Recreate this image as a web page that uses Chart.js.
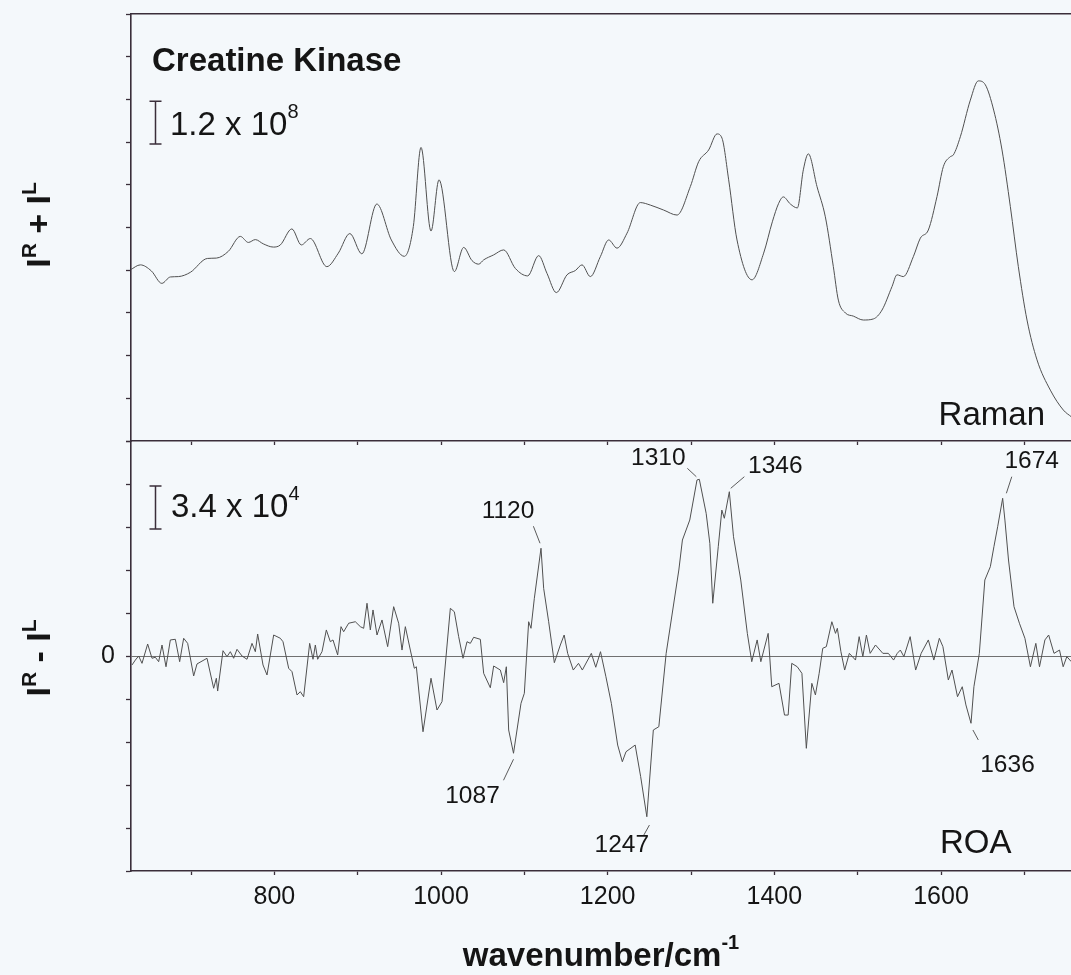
<!DOCTYPE html>
<html>
<head>
<meta charset="utf-8">
<title>Creatine Kinase Raman / ROA</title>
<script src="https://cdn.jsdelivr.net/npm/chart.js@4/dist/chart.umd.min.js"></script>
<style>
  html, body { margin: 0; padding: 0; background: #f4f8fb; overflow: hidden; }
  #wrap { position: relative; width: 1071px; height: 975px; }
  #wrap canvas { position: absolute; left: 0; top: 0; }
</style>
</head>
<body>
<div id="wrap">
  <canvas id="raman" width="1071" height="975"></canvas>
  <canvas id="roa" width="1071" height="975"></canvas>
</div>
<script>
// ---- data -------------------------------------------------------------
// Raman spectrum I^R + I^L (intensity in units of 10^8)
const ramanWavenumber = [
  627.2, 639.2, 652.4, 665.0, 675.2, 684.8, 699.2, 719.6, 730.4, 744.8,
  759.2, 768.8, 777.2, 786.8, 798.8, 807.2, 821.0, 832.4, 843.2, 863.0,
  876.8, 890.6, 905.0, 923.0, 940.4, 956.0, 966.8, 976.0, 988.0, 997.6,
  1016.0, 1027.2, 1037.2, 1045.2, 1051.2, 1063.2, 1075.2, 1089.2, 1104.0, 1117.2,
  1127.2, 1138.4, 1151.2, 1161.2, 1169.2, 1179.2, 1191.2, 1201.2, 1211.2, 1223.2,
  1239.2, 1251.2, 1267.2, 1283.2, 1299.2, 1309.2, 1321.2, 1331.2, 1337.2, 1345.2,
  1355.2, 1373.2, 1387.2, 1397.6, 1405.2, 1410.8, 1419.2, 1427.6, 1434.8, 1440.8,
  1451.2, 1461.2, 1470.8, 1476.8, 1485.2, 1494.8, 1506.8, 1518.8, 1529.2, 1541.2,
  1547.2, 1554.8, 1566.8, 1575.2, 1584.8, 1595.2, 1602.8, 1611.2, 1614.8, 1623.2,
  1635.2, 1644.8, 1653.2, 1663.2, 1673.2, 1683.2, 1692.8, 1703.2, 1715.2, 1731.2,
  1746.8, 1756.4
];
const ramanIntensity = [
  4.81, 4.95, 4.78, 4.43, 4.61, 4.62, 4.74, 5.13, 5.14, 5.33,
  5.75, 5.58, 5.66, 5.54, 5.45, 5.51, 5.96, 5.51, 5.69, 4.90,
  5.28, 5.83, 5.26, 6.66, 5.65, 5.19, 6.03, 8.25, 5.90, 7.34,
  4.76, 5.44, 5.07, 4.97, 5.09, 5.23, 5.37, 4.85, 4.64, 5.21,
  4.71, 4.17, 4.67, 4.79, 4.95, 4.62, 5.18, 5.65, 5.42, 5.84,
  6.70, 6.63, 6.49, 6.35, 7.15, 7.85, 8.18, 8.63, 8.51, 7.34,
  5.65, 4.53, 5.28, 6.16, 6.68, 6.86, 6.66, 6.55, 7.62, 8.07,
  7.15, 6.30, 4.90, 3.96, 3.60, 3.51, 3.40, 3.43, 3.68, 4.34,
  4.67, 4.62, 5.18, 5.70, 5.93, 6.87, 7.71, 7.99, 8.04, 8.55,
  9.58, 10.12, 10.01, 9.30, 8.18, 6.59, 4.90, 3.40, 2.28, 1.43,
  0.87, 0.68
];

// ROA spectrum I^R - I^L (units of 10^4)
const roaWavenumber = [
  629.2, 633.2, 637.2, 641.2, 648.0, 653.2, 657.2, 661.2, 665.2, 670.0,
  675.2, 681.2, 686.4, 691.2, 696.0, 703.2, 707.2, 719.2, 727.2, 730.4,
  732.0, 738.4, 743.2, 747.2, 751.2, 755.2, 761.2, 767.2, 773.2, 777.2,
  780.0, 786.4, 791.2, 799.2, 807.2, 810.4, 817.2, 821.2, 827.2, 831.2,
  835.2, 842.4, 846.4, 849.2, 852.0, 857.2, 862.4, 867.2, 870.4, 876.0,
  880.0, 883.2, 889.2, 897.2, 903.2, 907.2, 911.2, 915.2, 918.4, 923.2,
  929.2, 936.0, 943.2, 949.2, 953.2, 957.2, 963.2, 968.0, 970.4, 978.4,
  988.0, 995.2, 1001.2, 1011.2, 1016.0, 1021.2, 1026.4, 1031.2, 1035.2, 1039.2,
  1047.2, 1051.2, 1059.2, 1063.2, 1071.2, 1075.2, 1078.4, 1081.2, 1087, 1096.0,
  1100.0, 1105.2, 1108.0, 1112.0, 1120, 1123.2, 1129.2, 1136.0, 1143.2, 1147.8,
  1152.0, 1158.7, 1165.0, 1169.6, 1180.4, 1185.7, 1191.4, 1197.9, 1204.4, 1212.0,
  1217.6, 1222.0, 1233.0, 1239.6, 1247, 1254.8, 1261.4, 1270.2, 1285.4, 1289.7,
  1298.5, 1307.2, 1310, 1318.2, 1322.6, 1326.1, 1332.7, 1337.0, 1340.0, 1346,
  1351.0, 1359.7, 1367.6, 1372.9, 1379.4, 1383.8, 1392.6, 1396.9, 1405.6, 1412.2,
  1416.6, 1420.9, 1427.5, 1433.1, 1438.4, 1445.0, 1449.3, 1453.8, 1458.1, 1462.4,
  1469.0, 1473.4, 1475.6, 1479.9, 1484.4, 1490.0, 1497.4, 1501.8, 1506.2, 1510.5,
  1515.0, 1521.4, 1530.2, 1536.8, 1543.1, 1547.5, 1551.2, 1555.5, 1563.0, 1569.6,
  1576.2, 1584.8, 1591.4, 1598.0, 1602.3, 1608.8, 1613.2, 1619.8, 1625.5, 1629.9,
  1636, 1639.5, 1646.0, 1652.6, 1659.2, 1663.5, 1668.0, 1674, 1676.7, 1681.0,
  1687.6, 1694.1, 1700.7, 1707.3, 1713.8, 1718.2, 1724.7, 1729.2, 1735.6, 1742.2,
  1746.6, 1751.0, 1756.4
];
const roaIntensity = [
  -0.71, -0.32, 0.00, -0.58, 0.95, -0.18, -0.10, -0.45, 0.87, -0.85,
  1.27, 1.32, -0.45, 1.40, 1.00, -1.58, -0.63, -0.18, -2.55, -1.76,
  -2.77, 0.42, -0.05, 0.34, -0.18, 0.53, 0.00, -0.26, 1.00, 0.34,
  1.74, -0.71, -1.50, 1.66, 1.40, 1.13, -0.97, -1.24, -3.08, -2.82,
  -3.22, 1.00, -0.26, 0.87, -0.26, 0.34, 2.06, 1.13, 1.27, 0.08,
  2.32, 1.92, 2.59, 2.71, 2.32, 2.19, 4.17, 2.06, 3.64, 1.66,
  2.85, 0.74, 3.90, 2.59, 0.47, 2.32, 0.47, -0.97, -0.85, -5.99,
  -1.76, -4.27, -3.61, 3.77, 3.50, 1.53, -0.18, 1.13, 1.00, 1.48,
  1.32, -1.37, -2.51, -0.79, -1.11, -2.11, -0.85, -5.85, -7.69, -3.74,
  -2.95, 2.71, 2.19, 4.56, 8.52, 5.35, 2.71, -0.53, 0.87, 1.66,
  0.21, -1.11, -0.58, -1.11, 0.21, -0.89, 0.34, -1.64, -3.74, -7.04,
  -8.36, -7.57, -7.04, -9.54, -12.71, -5.85, -5.59, 0.21, 6.80, 9.17,
  10.75, 13.92, 13.97, 11.28, 8.91, 4.17, 8.64, 11.54, 10.89, 12.99,
  9.43, 6.01, 1.79, -0.45, 1.27, -0.45, 1.79, -2.43, -2.16, -4.67,
  -4.67, -0.58, -0.85, -1.37, -7.30, -2.16, -3.08, -1.37, 0.61, 0.74,
  2.71, 1.79, 2.19, 0.34, -1.11, 0.21, -0.32, 1.53, -0.05, 1.66,
  0.21, 0.87, 0.21, 0.21, -0.32, 0.21, 0.47, -0.05, 1.53, -1.11,
  0.21, 1.27, -0.32, 1.40, 0.74, -1.90, -1.11, -3.22, -2.43, -3.87,
  -5.32, -2.43, 0.21, 6.01, 7.06, 8.64, 10.22, 12.47, 10.75, 7.59,
  3.90, 2.59, 1.40, -0.85, 1.00, -0.85, 1.27, 1.66, 0.21, 0.47,
  -0.85, -0.05, -0.45
];

// labelled wavenumber ticks and annotated ROA bands
const xTickLabels = [800, 1000, 1200, 1400, 1600];
const roaBandLabels = [1087, 1120, 1247, 1310, 1346, 1636, 1674];

// intensity scale bars
const ramanScaleBar = 1.2;   // x 10^8
const roaScaleBar = 3.4;     // x 10^4

// ---- layout & style ---------------------------------------------------
const X_MIN = 628, X_MAX = 1756;
const PLOT_LEFT = 131;
const TOP_EDGE = 14, MID_EDGE = 441, BOTTOM_EDGE = 871;
const FONT = '"Liberation Sans", Arial, Helvetica, sans-serif';
const AXIS = '#3a2e3a';
const INK = '#151515';
const TRACE = '#505050';
const ZERO = '#707070';

Chart.defaults.font.family = FONT;

// leader-line / label offsets (px) for each annotated band, relative to the band point
const bandLabelOffsets = {
  1087: { l1: [0, 6],     l2: [-10, 27],   t: [-41, 43] },
  1120: { l1: [-1, -5],   l2: [-7.6, -22], t: [-33, -37] },
  1247: { l1: [2.6, 8.3], l2: [-3, 18.3],  t: [-25, 28.5] },
  1310: { l1: [-3, -2.6], l2: [-12, -11],  t: [-41, -21] },
  1346: { l1: [1.4, -3.4],l2: [15, -15],   t: [46, -25] },
  1636: { l1: [1.9, 6.7], l2: [7.3, 16.7], t: [36.5, 41.7] },
  1674: { l1: [3.7, -5],  l2: [9.1, -21.6],t: [29, -36.6] }
};

// ---- text helpers -------------------------------------------------------
function fontStr(r) { return `${r.bold ? 'bold ' : ''}${r.size}px ${FONT}`; }

// draws runs of text on one baseline; runs with "rise" are superscripts
function drawRich(ctx, runs, x, y, align) {
  let total = 0;
  runs.forEach(r => { ctx.font = fontStr(r); r.w = ctx.measureText(r.text).width; total += r.w; });
  let cx = align === 'center' ? x - total / 2 : align === 'right' ? x - total : x;
  ctx.textAlign = 'left';
  ctx.textBaseline = 'alphabetic';
  runs.forEach(r => {
    ctx.font = fontStr(r);
    ctx.fillText(r.text, cx, y - (r.rise || 0));
    cx += r.w;
  });
}

function drawVerticalTitle(ctx, cx, cy, runs, capHalf) {
  ctx.save();
  ctx.translate(cx, cy);
  ctx.rotate(-Math.PI / 2);
  drawRich(ctx, runs, 0, capHalf, 'center');
  ctx.restore();
}

function drawScaleBar(ctx, xScale, yScale, wn, from, span) {
  const x = Math.round(xScale.getPixelForValue(wn)) + 0.5;
  const y0 = yScale.getPixelForValue(from);
  const y1 = yScale.getPixelForValue(from + span);
  ctx.save();
  ctx.strokeStyle = AXIS;
  ctx.lineWidth = 1.5;
  ctx.beginPath();
  ctx.moveTo(x, y0); ctx.lineTo(x, y1);
  ctx.moveTo(x - 6, y0); ctx.lineTo(x + 6, y0);
  ctx.moveTo(x - 6, y1); ctx.lineTo(x + 6, y1);
  ctx.stroke();
  ctx.restore();
}

const BOLD_T = 34, SUP_T = 21;
const sumTitle = [
  { text: 'I', size: BOLD_T, bold: true },
  { text: 'R', size: SUP_T, bold: true, rise: 14 },
  { text: ' + ', size: BOLD_T, bold: true },
  { text: 'I', size: BOLD_T, bold: true },
  { text: 'L', size: SUP_T, bold: true, rise: 14 }
];
const diffTitle = [
  { text: 'I', size: BOLD_T, bold: true },
  { text: 'R', size: SUP_T, bold: true, rise: 14 },
  { text: ' - ', size: BOLD_T, bold: true },
  { text: 'I', size: BOLD_T, bold: true },
  { text: 'L', size: SUP_T, bold: true, rise: 14 }
];

// ---- Raman panel decorations -------------------------------------------
const ramanDecor = {
  id: 'ramanDecor',
  afterDraw(chart) {
    const { ctx, scales } = chart;
    ctx.save();
    ctx.fillStyle = INK;
    drawRich(ctx, [{ text: 'Creatine Kinase', size: 33, bold: true }], 152, 71, 'left');
    drawScaleBar(ctx, scales.x, scales.y, 657, 8.35, ramanScaleBar);
    drawRich(ctx, [
      { text: '1.2 x 10', size: 33 },
      { text: '8', size: 20, rise: 17 }
    ], 170, 135, 'left');
    drawRich(ctx, [{ text: 'Raman', size: 33 }], 1045, 425, 'right');
    drawVerticalTitle(ctx, 38, 225, sumTitle, 12);
    ctx.restore();
  }
};

// ---- ROA panel decorations ---------------------------------------------
const roaDecor = {
  id: 'roaDecor',
  afterDraw(chart) {
    const { ctx, scales, chartArea } = chart;
    const xs = scales.x, ys = scales.y;
    ctx.save();
    ctx.fillStyle = INK;
    drawScaleBar(ctx, xs, ys, 657, 10.05, roaScaleBar);
    drawRich(ctx, [
      { text: '3.4 x 10', size: 33 },
      { text: '4', size: 20, rise: 17 }
    ], 171, 517, 'left');
    drawRich(ctx, [{ text: 'ROA', size: 33 }], 940, 853, 'left');

    // band labels with leader lines
    roaBandLabels.forEach(wn => {
      const i = roaWavenumber.indexOf(wn);
      if (i < 0) return;
      const px = xs.getPixelForValue(wn);
      const py = ys.getPixelForValue(roaIntensity[i]);
      const o = bandLabelOffsets[wn];
      ctx.strokeStyle = '#5a5a5a';
      ctx.lineWidth = 1;
      ctx.beginPath();
      ctx.moveTo(px + o.l1[0], py + o.l1[1]);
      ctx.lineTo(px + o.l2[0], py + o.l2[1]);
      ctx.stroke();
      ctx.font = `24.5px ${FONT}`;
      ctx.textAlign = 'center';
      ctx.textBaseline = 'middle';
      ctx.fillText(String(wn), px + o.t[0], py + o.t[1]);
    });

    // axis titles
    const cx = (chartArea.left + chartArea.right) / 2;
    drawRich(ctx, [
      { text: 'wavenumber/cm', size: 33, bold: true },
      { text: '-1', size: 20, bold: true, rise: 17 }
    ], cx, 966, 'center');
    drawVerticalTitle(ctx, 38, 658, diffTitle, 12);
    ctx.restore();
  }
};

// ---- charts --------------------------------------------------------------
const toPoints = (xs, ys) => xs.map((x, i) => ({ x, y: ys[i] }));
const common = {
  responsive: false,
  animation: false,
  events: [],
  plugins: { legend: { display: false }, tooltip: { enabled: false } }
};
const tickGrid = (len) => ({
  display: true, drawOnChartArea: false, drawTicks: true,
  tickLength: len, tickColor: AXIS, tickWidth: 1.3
});
const border = { display: true, color: AXIS, width: 1.6 };

new Chart(document.getElementById('raman'), {
  type: 'line',
  data: {
    datasets: [{
      data: toPoints(ramanWavenumber, ramanIntensity),
      borderColor: TRACE, borderWidth: 1, pointRadius: 0,
      cubicInterpolationMode: 'monotone', fill: false
    }]
  },
  options: Object.assign({}, common, {
    layout: { padding: { top: TOP_EDGE, left: 0, right: 0, bottom: 975 - MID_EDGE - 4 } },
    scales: {
      x: {
        type: 'linear', position: 'bottom', min: X_MIN, max: X_MAX,
        afterFit: s => { s.height = 4; },
        ticks: { display: false, stepSize: 100, autoSkip: false, includeBounds: false },
        grid: tickGrid(4), border
      },
      xTop: {
        type: 'linear', position: 'top', min: X_MIN, max: X_MAX,
        afterFit: s => { s.height = 0; },
        ticks: { display: false }, grid: { display: false }, border
      },
      y: {
        type: 'linear', position: 'left', min: 0, max: 12,
        afterFit: s => { s.width = PLOT_LEFT; },
        ticks: { display: false, stepSize: 1.2, autoSkip: false },
        grid: tickGrid(5), border
      }
    }
  }),
  plugins: [ramanDecor]
});

new Chart(document.getElementById('roa'), {
  type: 'line',
  data: {
    datasets: [{
      data: toPoints(roaWavenumber, roaIntensity),
      borderColor: TRACE, borderWidth: 1, pointRadius: 0,
      tension: 0, fill: false
    }]
  },
  options: Object.assign({}, common, {
    layout: { padding: { top: MID_EDGE, left: 0, right: 0, bottom: 0 } },
    scales: {
      x: {
        type: 'linear', position: 'bottom', min: X_MIN, max: X_MAX,
        afterFit: s => { s.height = 975 - BOTTOM_EDGE; },
        ticks: {
          stepSize: 100, autoSkip: false, includeBounds: false, maxRotation: 0,
          padding: 7, color: INK, font: { size: 25 },
          callback: v => xTickLabels.includes(v) ? String(v) : ''
        },
        grid: tickGrid(4), border
      },
      y: {
        type: 'linear', position: 'left', min: -17, max: 17,
        afterFit: s => { s.width = PLOT_LEFT; },
        ticks: {
          stepSize: roaScaleBar, autoSkip: false, padding: 11, color: INK, font: { size: 25 },
          callback: v => Math.abs(v) < 1e-9 ? '0' : ''
        },
        grid: {
          display: true, drawOnChartArea: true, drawTicks: true,
          tickLength: 5, tickColor: AXIS, tickWidth: 1.3, lineWidth: 1,
          color: c => (c.tick && Math.abs(c.tick.value) < 1e-9) ? ZERO : 'rgba(0,0,0,0)'
        },
        border
      }
    }
  }),
  plugins: [roaDecor]
});
</script>
</body>
</html>
